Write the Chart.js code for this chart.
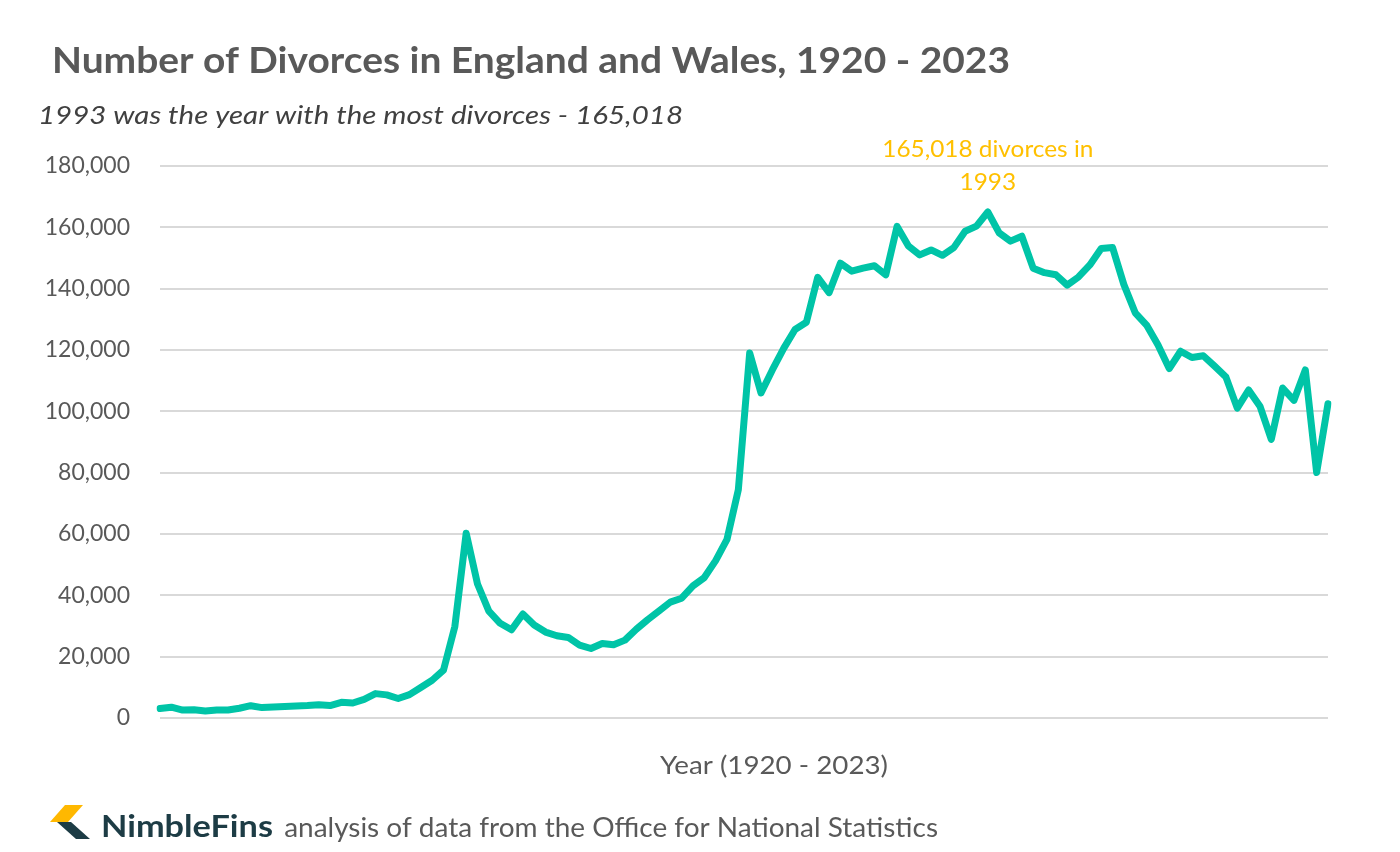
<!DOCTYPE html>
<html>
<head>
<meta charset="utf-8">
<script src="https://cdn.jsdelivr.net/npm/chart.js@4.4.0/dist/chart.umd.min.js"></script>
<style>
  html, body { margin: 0; padding: 0; background: #fff; }
  #wrap { position: relative; width: 1400px; height: 852px; }
</style>
</head>
<body>
<div id="wrap"><canvas id="divorce-chart" width="1400" height="852"></canvas></div>
<script>
// *** DATA ***
var years = [];
for (var y = 1920; y <= 2023; y++) { years.push(String(y)); }

var divorces = [
    3090, 3522, 2588, 2667, 2286, 2605, 2622, 3190, 4018, 3396,   // 1920s
    3563, 3764, 3894, 4042, 4287, 4069, 5117, 4886, 6092, 7955,   // 1930s
    7535, 6368, 7618, 9970, 12314, 15634, 29829, 60254, 43698, 34856, // 1940s
    30870, 28767, 33922, 30326, 28027, 26816, 26265, 23785, 22654, 24286, // 1950s
    23868, 25394, 28935, 32052, 34868, 37785, 39067, 43093, 45794, 51310, // 1960s
    58239, 74437, 119025, 106003, 113500, 120522, 126694, 129053, 143667, 138706, // 1970s
    148301, 145713, 146698, 147479, 144501, 160300, 153903, 151007, 152633, 150872, // 1980s
    153386, 158745, 160385, 165018, 158175, 155499, 157107, 146689, 145214, 144556, // 1990s
    141135, 143818, 147735, 153065, 153399, 141322, 132140, 128131, 121708, 113949, // 2000s
    119589, 117558, 118140, 114720, 111169, 101055, 106959, 101669, 90871, 107599,  // 2010s
    103592, 113505, 80057, 102500                                      // 2020s
];

var yTicks = [0, 20000, 40000, 60000, 80000, 100000, 120000, 140000, 160000, 180000];

var titleText = 'Number of Divorces in England and Wales, 1920 - 2023';
var subtitleText = '1993 was the year with the most divorces - 165,018';
var xAxisText = 'Year (1920 - 2023)';
var peakLabel = ['165,018 divorces in', '1993'];
var peakYear = '1993';
var footerBrand = 'NimbleFins';
var footerText = ' analysis of data from the Office for National Statistics';

var FONT = 'Lato, "Open Sans", sans-serif';
var GREY = '#595959';

// draws text squeezed/stretched to a target width (reference font is narrower)
function fitText(ctx, text, x, y, width) {
    var w = ctx.measureText(text).width;
    ctx.save();
    ctx.translate(x, y);
    ctx.scale(width / w, 1);
    ctx.fillText(text, 0, 0);
    ctx.restore();
}

// *** PLUGINS ***
var textPlugin = {
    id: 'textPlugin',
    afterDraw: function(chart) {
        var ctx = chart.ctx;
        ctx.save();
        ctx.textBaseline = 'alphabetic';
        ctx.textAlign = 'left';

        // title + subtitle
        ctx.fillStyle = GREY;
        ctx.font = 'bold 36px ' + FONT;
        fitText(ctx, titleText, 52, 73, 958);
        ctx.font = 'italic 26px ' + FONT;
        ctx.fillStyle = '#404040';
        fitText(ctx, subtitleText, 38, 124, 645);

        // x axis title
        ctx.fillStyle = GREY;
        ctx.font = '25px ' + FONT;
        fitText(ctx, xAxisText, 660, 774, 228);

        // peak annotation
        var xs = chart.scales.x;
        var px = xs.getPixelForValue(years.indexOf(peakYear));
        ctx.fillStyle = '#FFC000';
        ctx.font = '23px ' + FONT;
        ctx.textAlign = 'center';
        ctx.save();
        ctx.translate(px, 0);
        ctx.scale(1.06, 1);
        ctx.fillText(peakLabel[0], 0, 157);
        ctx.fillText(peakLabel[1], 0, 190);
        ctx.restore();
        ctx.textAlign = 'left';

        // footer logo
        ctx.fillStyle = '#FFB800';
        ctx.beginPath();
        ctx.moveTo(50, 822); ctx.lineTo(65, 805); ctx.lineTo(83, 805); ctx.lineTo(68, 822);
        ctx.closePath(); ctx.fill();
        ctx.fillStyle = '#1D3C45';
        ctx.beginPath();
        ctx.moveTo(57, 822); ctx.lineTo(71, 822); ctx.lineTo(90, 839); ctx.lineTo(76, 839);
        ctx.closePath(); ctx.fill();

        // footer text
        ctx.font = 'bold 30px ' + FONT;
        ctx.fillStyle = '#1D3C45';
        fitText(ctx, footerBrand, 101, 837, 172);
        ctx.font = '26px ' + FONT;
        ctx.fillStyle = GREY;
        fitText(ctx, footerText, 277, 837, 661);
        ctx.restore();
    }
};

// *** CHART ***
var divorceChart = new Chart(document.getElementById('divorce-chart'), {
    type: 'line',
    data: {
        labels: years,
        datasets: [{
            label: 'Divorces',
            data: divorces,
            borderColor: '#00C4A7',
            borderWidth: 7,
            pointRadius: 0,
            tension: 0,
            borderJoinStyle: 'round',
            borderCapStyle: 'round'
        }]
    },
    options: {
        responsive: false,
        animation: false,
        layout: { padding: { top: 166, bottom: 134, left: 0, right: 72 } },
        plugins: { legend: { display: false }, tooltip: { enabled: false } },
        scales: {
            x: {
                display: false
            },
            y: {
                min: 0,
                max: 180000,
                afterBuildTicks: function(scale) {
                    scale.ticks = yTicks.map(function(v) { return { value: v }; });
                },
                afterFit: function(scale) { scale.width = 160; },
                ticks: {
                    color: GREY,
                    font: { family: FONT, size: 23 },
                    padding: 30,
                    callback: function(v) { return v.toLocaleString('en-US'); }
                },
                grid: { color: '#D9D9D9', lineWidth: 2, drawTicks: false },
                border: { display: false }
            }
        }
    },
    plugins: [textPlugin]
});
</script>
</body>
</html>
